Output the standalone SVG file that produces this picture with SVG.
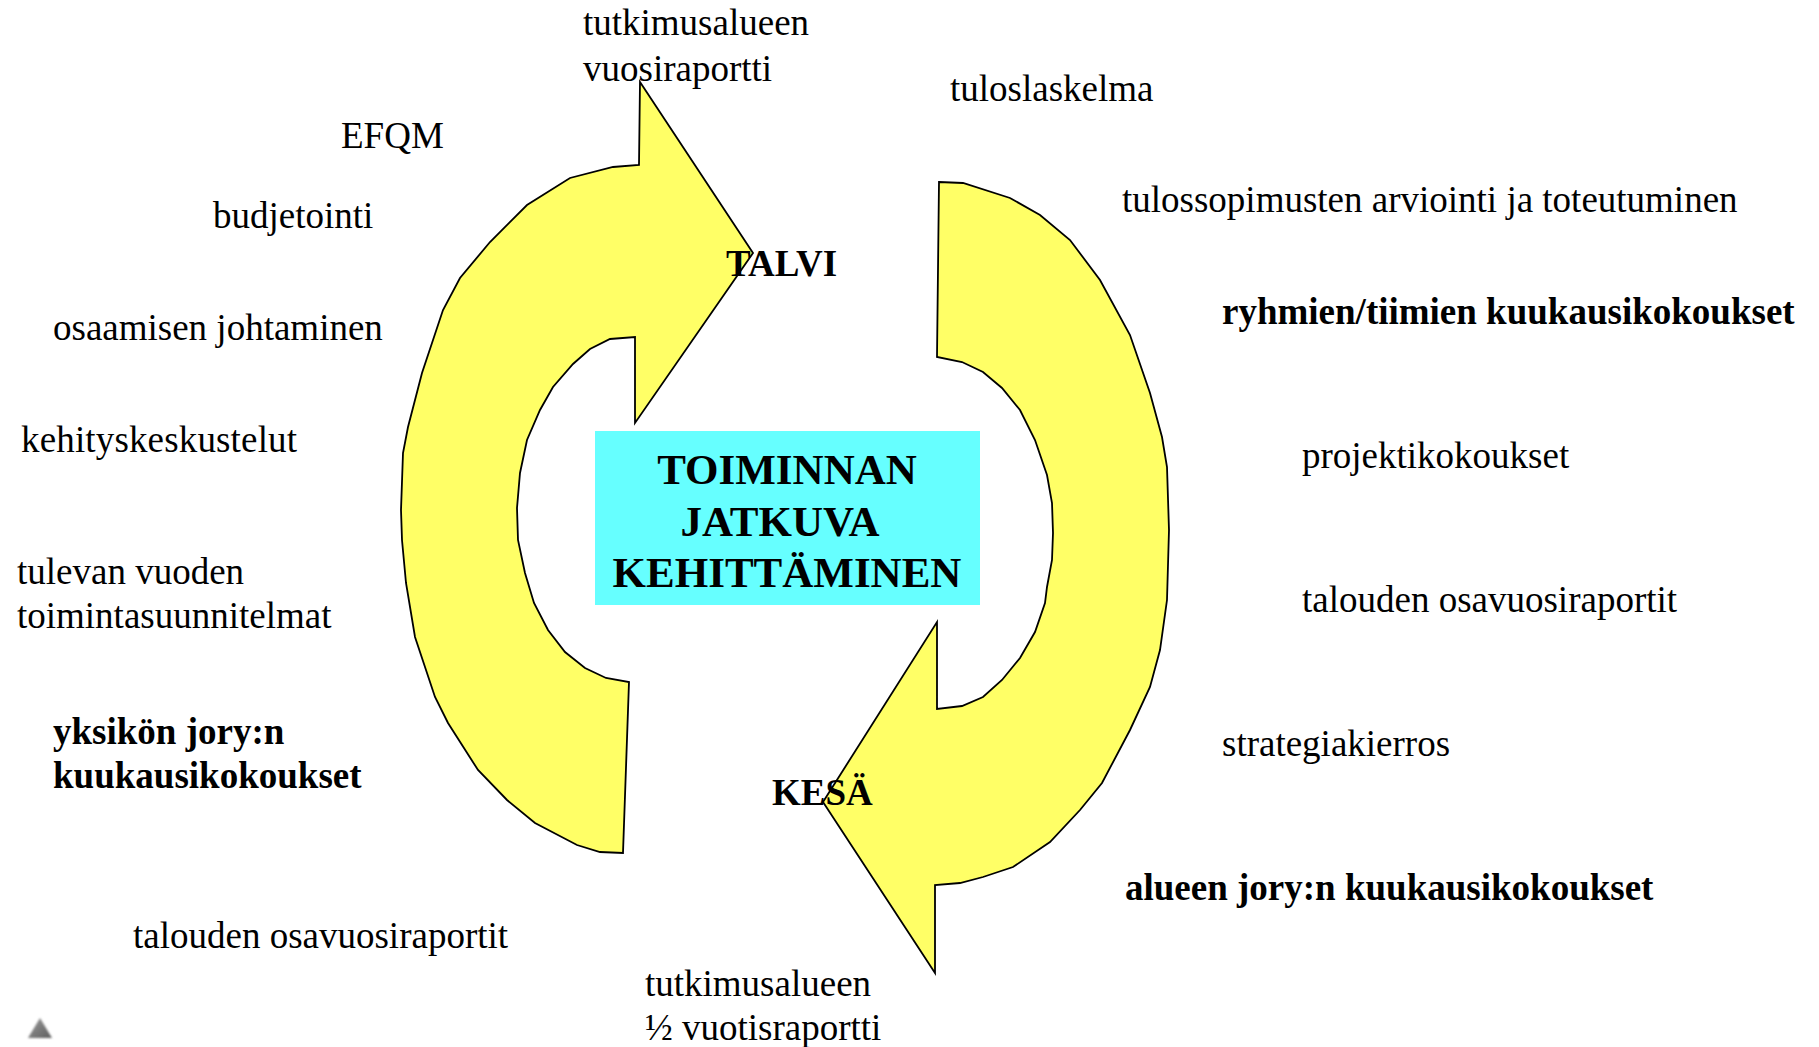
<svg xmlns="http://www.w3.org/2000/svg" width="1819" height="1047" viewBox="0 0 1819 1047">
  <defs>
    <style>
      .lbl { font-family: "Liberation Serif", "Times New Roman", serif; font-size: 37px; fill: #000; }
      .b { font-weight: bold; }
      .title { font-family: "Liberation Serif", "Times New Roman", serif; font-size: 43px; font-weight: bold; fill: #000; text-anchor: middle; }
      .arrow { fill: #FFFF66; stroke: #000; stroke-width: 1.8; stroke-linejoin: miter; }
    </style>
    <linearGradient id="triGrad" x1="0" y1="0" x2="1" y2="1">
      <stop offset="0" stop-color="#9a9a9a"/>
      <stop offset="1" stop-color="#5e5e5e"/>
    </linearGradient>
    <filter id="soft" x="-30%" y="-30%" width="160%" height="160%">
      <feGaussianBlur stdDeviation="0.8"/>
    </filter>
  </defs>

  <rect width="1819" height="1047" fill="#fff"/>

  <!-- the two curved cycle arrows -->
  <g id="cycle-arrows">
    <polygon id="arrow-talvi" class="arrow" points="640,82 753,253 635,423 635,337 610,339 590,349 573,364 553,387 540,410 527,440 520,473 517,508 518,540 525,573 534,603 548,630 565,652 585,668 606,678 629,682 623,853 600,852 577,845 535,823 507,800 478,770 448,723 435,697 415,637 406,583 402,540 401,510 403,453 408,427 422,373 443,310 460,278 490,242 527,205 570,178 613,167 639,165"/>
    <polygon id="arrow-kesa" class="arrow" points="939,182 963,183 1010,198 1040,215 1070,240 1100,280 1130,335 1150,393 1162,437 1167,467 1169,530 1167,600 1160,650 1150,687 1130,730 1102,783 1080,810 1050,842 1013,867 983,877 960,883 935,885 935,973 823,802 937,622 937,709 962,706 983,697 1002,680 1020,658 1035,632 1045,603 1047,587 1052,560 1053,533 1052,503 1047,475 1035,440 1020,410 1002,388 983,372 962,362 937,357"/>
  </g>

  <!-- central box -->
  <g id="center">
    <rect x="595" y="431" width="385" height="174" fill="#66FFFF"/>
    <text class="title" x="787" y="484">TOIMINNAN</text>
    <text class="title" x="780" y="536">JATKUVA</text>
    <text class="title" x="787" y="587">KEHITTÄMINEN</text>
  </g>

  <!-- season labels -->
  <g id="talvi"><text class="lbl b" x="726" y="276">TALVI</text></g>
  <g id="kesa"><text class="lbl b" x="772" y="805">KESÄ</text></g>

  <!-- activities, left side -->
  <g id="vuosiraportti">
    <text class="lbl" x="583" y="35">tutkimusalueen</text>
    <text class="lbl" x="583" y="81">vuosiraportti</text>
  </g>
  <g id="efqm"><text class="lbl" x="341" y="148">EFQM</text></g>
  <g id="budjetointi"><text class="lbl" x="213" y="228">budjetointi</text></g>
  <g id="osaaminen"><text class="lbl" x="53" y="340">osaamisen johtaminen</text></g>
  <g id="kehityskeskustelut"><text class="lbl" x="21" y="452" textLength="276">kehityskeskustelut</text></g>
  <g id="toimintasuunnitelmat">
    <text class="lbl" x="17" y="584">tulevan vuoden</text>
    <text class="lbl" x="17" y="628">toimintasuunnitelmat</text>
  </g>
  <g id="yksikon-jory">
    <text class="lbl b" x="53" y="744">yksikön jory:n</text>
    <text class="lbl b" x="53" y="788">kuukausikokoukset</text>
  </g>
  <g id="osavuosiraportit-vasen"><text class="lbl" x="133" y="948">talouden osavuosiraportit</text></g>
  <g id="puolivuotisraportti">
    <text class="lbl" x="645" y="996">tutkimusalueen</text>
    <text class="lbl" x="645" y="1040">½ vuotisraportti</text>
  </g>

  <!-- activities, right side -->
  <g id="tuloslaskelma"><text class="lbl" x="950" y="101">tuloslaskelma</text></g>
  <g id="tulossopimukset"><text class="lbl" x="1122" y="212">tulossopimusten arviointi ja toteutuminen</text></g>
  <g id="ryhmat"><text class="lbl b" x="1222" y="324">ryhmien/tiimien kuukausikokoukset</text></g>
  <g id="projektikokoukset"><text class="lbl" x="1302" y="468">projektikokoukset</text></g>
  <g id="osavuosiraportit-oikea"><text class="lbl" x="1302" y="612">talouden osavuosiraportit</text></g>
  <g id="strategiakierros"><text class="lbl" x="1222" y="756">strategiakierros</text></g>
  <g id="alueen-jory"><text class="lbl b" x="1125" y="900">alueen jory:n kuukausikokoukset</text></g>

  <!-- small marker in the corner -->
  <polygon points="40,1018 28,1038 52,1038" fill="url(#triGrad)" filter="url(#soft)"/>
</svg>
